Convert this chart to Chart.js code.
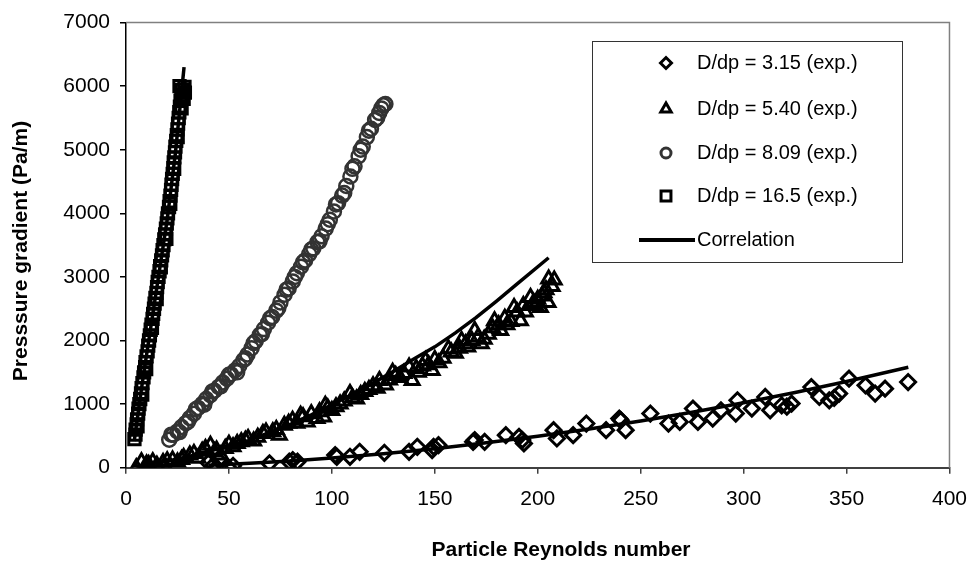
<!DOCTYPE html>
<html>
<head>
<meta charset="utf-8">
<script src="https://cdn.jsdelivr.net/npm/chart.js@4/dist/chart.umd.min.js"></script>
<style>
  html, body { margin: 0; padding: 0; background: #fff; }
  #wrap { width: 980px; height: 581px; }
</style>
</head>
<body>
<div id="wrap"><canvas id="grafica"></canvas></div>
<script>
// D/dp = 3.15 (diamonds)
const d315X = [40, 42.6, 44, 45, 49.8, 52, 69.7, 79.3, 83.3, 81, 101.6, 102.4, 108.8, 113.5, 125.5, 137.5, 141.5, 148.7, 151.8, 149.4,
  168.6, 169.4, 174.2, 184.5, 190.9, 193.3, 192.5, 207.7, 209.3, 217.2, 223.6, 233.2, 239.6, 240.3, 242.7, 254.7, 263.5, 269, 275.4, 277.8,
  285, 289, 297, 296.2, 304, 310.5, 312.9, 318.5, 323.3, 321, 332.9, 336.8, 341.6, 346.4, 344, 351.2, 359.2, 363.9, 368.7, 379.9];
const d315Y = [80, 42, 0, 120, 0, 30, 69, 94, 94, 120, 199, 172, 172, 250, 235, 250, 329, 277, 355, 329,
  407, 434, 407, 512, 485, 382, 434, 590, 460, 512, 695, 590, 773, 747, 590, 852, 695, 720, 930, 720,
  773, 903, 1060, 852, 930, 1112, 903, 982, 1008, 960, 1268, 1112, 1060, 1165, 1100, 1400, 1295, 1165, 1243, 1347];

// D/dp = 5.40 (triangles)
const d540X = [5, 7.5, 10, 13, 15, 18, 22.6, 25, 28, 33, 35, 38.6, 41, 43, 46, 48.2, 52, 56, 59.3, 62,
  66.5, 71.3, 74.5, 76.9, 80.9, 84.8, 88, 92.8, 96.8, 96, 100, 104, 108.8, 112, 116, 120, 123.1, 126, 129.5, 133,
  137.5, 139, 142, 145.5, 148.7, 152, 156.6, 160, 163, 166, 169.4, 172.6, 176, 179, 182, 185, 188.5, 191.6, 194, 196.5,
  199, 201.3, 203, 205.3, 207, 208, 205,
  11, 20, 27, 31, 37, 44, 50, 54, 58, 64, 68, 73, 79, 83, 86, 90, 94, 98, 102, 106,
  110, 114, 118, 122, 128, 131, 135, 141, 144, 147, 150, 154, 158, 162, 165, 168, 171, 174, 178, 181,
  184, 187, 190, 193, 198, 200, 202, 204];
const d540Y = [0, 94, 60, 94, 40, 80, 120, 90, 160, 225, 150, 303, 355, 250, 200, 303, 330, 407, 460, 420,
  538, 564, 512, 669, 747, 825, 720, 773, 982, 798, 900, 1000, 1165, 1080, 1200, 1290, 1373, 1300, 1503, 1420,
  1582, 1373, 1500, 1686, 1530, 1650, 1870, 1800, 2000, 1900, 2157, 1948, 2100, 2313, 2157, 2250, 2521, 2313, 2450, 2678,
  2550, 2521, 2750, 2966, 2850, 2950, 2600,
  50, 110, 130, 200, 260, 280, 370, 380, 430, 480, 560, 600, 700, 700, 800, 850, 880, 940, 960, 1050,
  1100, 1150, 1230, 1250, 1380, 1450, 1480, 1560, 1600, 1620, 1700, 1720, 1820, 1880, 1950, 2000, 2050, 2020, 2200, 2250,
  2350, 2300, 2450, 2550, 2600, 2650, 2700, 2800];

// D/dp = 8.09 (circles)
const d809X = [21, 23, 25, 27, 29, 31, 33, 35, 37, 39, 41, 43, 45, 47, 49, 51, 53, 55, 57, 59,
  61, 63, 65, 67, 69, 71, 73, 75, 77, 79, 81, 83, 85, 87, 89, 91, 93, 95, 97, 99,
  101, 103, 105, 107, 109, 111, 113, 115, 117, 119, 121, 123, 124, 125, 126,
  22, 26, 30, 34, 38, 42, 46, 50, 54, 58, 62, 66, 70, 74, 78, 82, 86, 90, 94, 98,
  102, 106, 110, 114, 118, 122];
const d809Y = [440, 520, 570, 640, 700, 780, 850, 940, 1000, 1080, 1140, 1210, 1270, 1340, 1400, 1470, 1530, 1600, 1690, 1780,
  1880, 1990, 2090, 2180, 2280, 2370, 2470, 2600, 2720, 2820, 2930, 3060, 3160, 3260, 3360, 3450, 3550, 3640, 3760, 3900,
  4030, 4160, 4280, 4430, 4580, 4740, 4900, 5050, 5200, 5330, 5470, 5580, 5650, 5700, 5720,
  520, 560, 720, 920, 990, 1200, 1280, 1460, 1500, 1720, 1960, 2100, 2350, 2510, 2800, 3000, 3230, 3430, 3560, 3830,
  4140, 4320, 4700, 5000, 5300, 5500];

// D/dp = 16.5 (squares)
const d165X = [4.1, 4.6, 4.7, 5.2, 5.4, 5.9, 6.1, 6.5, 6.9, 7.3, 7.6, 8.0, 8.5, 8.8, 9.3, 9.5, 10.0, 10.5, 10.8, 11.2,
  11.6, 12.0, 12.4, 12.9, 13.2, 13.6, 13.9, 14.3, 14.8, 15.1, 15.4, 15.8, 16.3, 16.6, 17.1, 17.5, 17.8, 18.2, 18.6, 19.0,
  19.4, 19.8, 20.1, 20.4, 20.9, 21.2, 21.6, 21.9, 22.1, 22.4, 22.7, 23.0, 23.2, 23.5, 23.8, 24.0, 24.4, 24.7, 25.0, 25.3,
  25.6, 25.9, 26.2, 26.5, 26.9, 27.2, 26.0, 28.4, 28.6, 28.0,
  5.6, 7.9, 9.8, 12.6, 14.9, 16.9, 19.6, 21.5, 23.4, 25.1, 27.0];
const d165Y = [450, 520, 600, 680, 760, 850, 930, 1000, 1080, 1170, 1250, 1330, 1420, 1500, 1580, 1660, 1750, 1830, 1920, 2000,
  2080, 2170, 2250, 2340, 2420, 2500, 2580, 2670, 2750, 2840, 2920, 3000, 3090, 3170, 3260, 3340, 3420, 3500, 3590, 3670,
  3760, 3840, 3920, 4000, 4100, 4190, 4280, 4370, 4450, 4540, 4620, 4710, 4800, 4880, 4960, 5050, 5140, 5230, 5320, 5410,
  5500, 5590, 5680, 5770, 5860, 5940, 6000, 5990, 5900, 5800,
  650, 1150, 1550, 2200, 2650, 3150, 3600, 4150, 4700, 5200, 5650];

// correlation curves
const corr315X = [40, 60, 80, 100, 125, 150, 175, 200, 225, 250, 275, 300, 325, 350, 380];
const corr315Y = [38, 69, 107, 152, 220, 299, 391, 493, 607, 734, 872, 1021, 1183, 1357, 1580];
const corr540X = [5, 10, 20, 30, 40, 50, 60, 70, 80, 90, 100, 110, 120, 130, 140, 150, 160, 170, 180, 190, 205.3];
const corr540Y = [20, 46, 104, 174, 255, 348, 430, 560, 680, 830, 990, 1154, 1330, 1516, 1715, 1900, 2120, 2360, 2620, 2890, 3302];
const corr165X = [4, 8, 12, 16, 20, 24, 28.2];
const corr165Y = [420, 1350, 2200, 3050, 3900, 4950, 6300];

const xTicks = [0, 50, 100, 150, 200, 250, 300, 350, 400];
const yTicks = [0, 1000, 2000, 3000, 4000, 5000, 6000, 7000];

const puntos = (xs, ys) => xs.map((x, i) => ({ x: x, y: ys[i] }));
const hueco = { x: null, y: null };
const correlacion = [].concat(puntos(corr315X, corr315Y), [hueco], puntos(corr540X, corr540Y), [hueco], puntos(corr165X, corr165Y));

const FUENTE = '"Liberation Sans", Arial, sans-serif';
Chart.defaults.font.family = FUENTE;
Chart.defaults.color = '#000';

// plot frame (top and right), axis titles and the boxed legend
const marco = {
  id: 'marco',
  beforeDatasetsDraw(chart) {
    const { ctx, chartArea: a } = chart;
    ctx.save();
    ctx.strokeStyle = '#808080';
    ctx.lineWidth = 1.5;
    ctx.beginPath();
    ctx.moveTo(a.left, a.top);
    ctx.lineTo(a.right, a.top);
    ctx.lineTo(a.right, a.bottom);
    ctx.stroke();

    ctx.fillStyle = '#000';
    ctx.font = 'bold 21px ' + FUENTE;
    ctx.textAlign = 'center';
    ctx.textBaseline = 'middle';
    ctx.fillText('Particle Reynolds number', 561, 550);
    ctx.translate(21, 251);
    ctx.rotate(-Math.PI / 2);
    ctx.fillText('Presssure gradient (Pa/m)', 0, 0);
    ctx.restore();
  },
  afterDraw(chart) {
    const ctx = chart.ctx;
    const box = { x: 592, y: 41, w: 310, h: 221 };
    ctx.save();
    ctx.fillStyle = '#fff';
    ctx.fillRect(box.x, box.y, box.w, box.h);
    ctx.strokeStyle = '#333';
    ctx.lineWidth = 1;
    ctx.strokeRect(box.x + 0.5, box.y + 0.5, box.w, box.h);
    const filas = [63, 109, 153, 196, 240];
    const orden = [1, 2, 3, 4, 0];
    ctx.font = '20px ' + FUENTE;
    ctx.textBaseline = 'middle';
    ctx.textAlign = 'left';
    orden.forEach((idx, k) => {
      const ds = chart.data.datasets[idx];
      const y = filas[k];
      if (ds.showLine) {
        ctx.strokeStyle = ds.borderColor;
        ctx.lineWidth = 4;
        ctx.beginPath();
        ctx.moveTo(639, y);
        ctx.lineTo(695, y);
        ctx.stroke();
      } else {
        ctx.strokeStyle = ds.pointBorderColor;
        ctx.fillStyle = 'rgba(0,0,0,0)';
        ctx.lineWidth = 3;
        ctx.lineJoin = 'miter';
        Chart.helpers.drawPoint(ctx, {
          pointStyle: ds.pointStyle,
          radius: ds.legendRadius,
          borderWidth: 3,
          rotation: 0
        }, 666, y);
      }
      ctx.fillStyle = '#000';
      ctx.fillText(ds.label, 697, y);
    });
    ctx.restore();
  }
};

new Chart(document.getElementById('grafica'), {
  type: 'scatter',
  data: {
    datasets: [{
      label: 'Correlation',
      data: correlacion,
      showLine: true,
      spanGaps: false,
      borderColor: '#000',
      borderWidth: 3.5,
      pointRadius: 0,
      order: 0
    }, {
      label: 'D/dp = 3.15 (exp.)',
      data: puntos(d315X, d315Y),
      pointStyle: 'rectRot',
      pointRadius: 7.5,
      legendRadius: 5.5,
      pointBorderColor: '#000',
      pointBackgroundColor: 'rgba(0,0,0,0)',
      pointBorderWidth: 3,
      order: 1
    }, {
      label: 'D/dp = 5.40 (exp.)',
      data: puntos(d540X, d540Y),
      pointStyle: 'triangle',
      pointRadius: 8,
      legendRadius: 6,
      pointBorderColor: '#000',
      pointBackgroundColor: 'rgba(0,0,0,0)',
      pointBorderWidth: 3,
      order: 2
    }, {
      label: 'D/dp = 8.09 (exp.)',
      data: puntos(d809X, d809Y),
      pointStyle: 'circle',
      pointRadius: 7,
      legendRadius: 5,
      pointBorderColor: '#333',
      pointBackgroundColor: 'rgba(0,0,0,0)',
      pointBorderWidth: 2.5,
      order: 3
    }, {
      label: 'D/dp = 16.5 (exp.)',
      data: puntos(d165X, d165Y),
      pointStyle: 'rect',
      pointRadius: 8,
      legendRadius: 7,
      pointBorderColor: '#000',
      pointBackgroundColor: 'rgba(0,0,0,0)',
      pointBorderWidth: 3,
      order: 4
    }]
  },
  options: {
    responsive: true,
    maintainAspectRatio: false,
    animation: false,
    events: [],
    layout: { padding: { top: 20.7, right: 18, left: 0, bottom: 0 } },
    scales: {
      x: {
        type: 'linear',
        min: 0,
        max: 400,
        afterBuildTicks: (s) => { s.ticks = xTicks.map(v => ({ value: v })); },
        afterFit: (s) => { s.height = 113.3; },
        ticks: { font: { size: 21 }, padding: 13, color: '#000', callback: (v) => String(v) },
        grid: { drawOnChartArea: false, drawTicks: true, tickLength: 6, color: '#404040', lineWidth: 1.5 },
        border: { color: '#404040', width: 2 }
      },
      y: {
        type: 'linear',
        min: 0,
        max: 7000,
        afterBuildTicks: (s) => { s.ticks = yTicks.map(v => ({ value: v })); },
        afterFit: (s) => { s.width = 126; },
        ticks: { font: { size: 21 }, padding: 10, color: '#000', callback: (v) => String(v) },
        grid: { drawOnChartArea: false, drawTicks: true, tickLength: 6, color: '#000', lineWidth: 1.5 },
        border: { color: '#000', width: 1.5 }
      }
    },
    plugins: {
      legend: { display: false },
      tooltip: { enabled: false }
    }
  },
  plugins: [marco]
});
</script>
</body>
</html>
